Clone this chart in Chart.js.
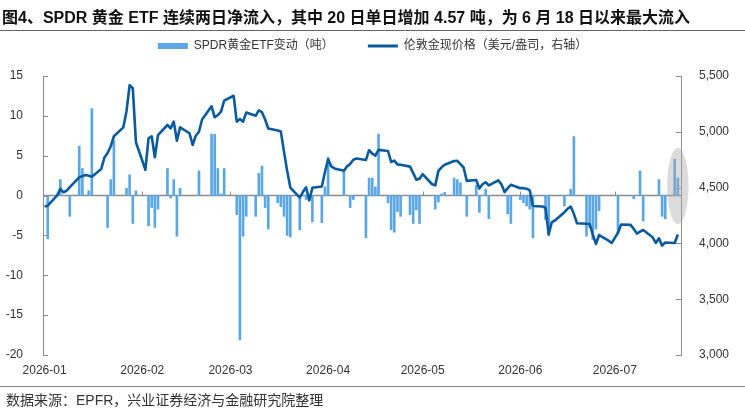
<!DOCTYPE html>
<html lang="zh">
<head>
<meta charset="utf-8">
<title>SPDR 黄金 ETF</title>
<script src="https://cdn.jsdelivr.net/npm/chart.js@4.4.1/dist/chart.umd.min.js"></script>
<style>
  html, body { margin: 0; padding: 0; background: #fff; }
  #wrap { position: relative; width: 745px; height: 410px; overflow: hidden; font-family: "Liberation Sans", "Noto Sans CJK SC", sans-serif; }
  #titulo { position: absolute; left: 2px; top: 4px; font-size: 16px; font-weight: bold; color: #111; white-space: nowrap; }
  .regla { position: absolute; left: 0; width: 745px; height: 0; border-top: 1px solid #666; }
  #fuente { position: absolute; left: 6px; top: 389px; font-size: 14px; color: #333; white-space: nowrap; }
  canvas { position: absolute; left: 0; top: 0; }
</style>
</head>
<body>
<div id="wrap">
  <canvas id="grafico" width="745" height="410"></canvas>
  <div id="titulo">图4、SPDR 黄金 ETF 连续两日净流入，其中 20 日单日增加 4.57 吨，为 6 月 18 日以来最大流入</div>
  <div class="regla" style="top:30px"></div>
  <div class="regla" style="top:386px; border-top-color:#888"></div>
  <div id="fuente">数据来源：EPFR，兴业证券经济与金融研究院整理</div>
</div>
<script>
// eje x: etiquetas de mes y su primer dia
const months = ['2026-01', '2026-02', '2026-03', '2026-04', '2026-05', '2026-06', '2026-07'];
const monthStarts = ['01-01', '02-01', '03-01', '04-01', '05-01', '06-01', '07-01'];

// SPDR黄金ETF变动（吨）
const flowDates = [
  '01-02','01-06','01-09','01-12','01-13','01-15','01-16','01-21','01-22','01-23','01-27','01-28','01-29','01-30',
  '02-03','02-04','02-05','02-06','02-09','02-10','02-11','02-12','02-13','02-19','02-23','02-24','02-25','02-26','02-27',
  '03-03','03-04','03-05','03-06','03-09','03-10','03-11','03-12','03-13','03-16','03-17','03-18','03-19','03-20','03-23','03-25','03-26','03-27','03-30','03-31',
  '04-01','04-06','04-08','04-09','04-13','04-14','04-15','04-16','04-17','04-20','04-21','04-22','04-23','04-24','04-27','04-28','04-29','04-30',
  '05-05','05-06','05-07','05-08','05-11','05-12','05-13','05-15','05-18','05-19','05-21','05-22','05-28','05-29',
  '06-01','06-02','06-03','06-04','06-05','06-09','06-10','06-15','06-17','06-18','06-22','06-23','06-24','06-25','06-26',
  '07-02','07-07','07-09','07-10','07-15','07-16','07-17','07-20','07-21'
];
const flowValues = [
  -5.4, 2.0, -2.6, 6.2, 3.4, 0.6, 10.9, -4.0, 2.0, 6.9, 0.9, 2.6, -3.5, 0.6,
  -3.8, -1.5, -4.0, -1.7, 3.4, -0.3, 2.0, -5.1, 0.9, 3.1, 7.7, 7.7, 3.4, 0.2, 3.4,
  -2.4, -18.1, -5.1, -2.6, -2.6, 2.8, 3.7, -1.5, -4.2, -0.9, -1.4, -2.6, -5.0, -5.2, -4.3, -0.5, -0.6, -3.3, -3.4, 1.1,
  4.8, 3.1, -1.5, -0.5, -5.3, 2.2, 2.2, 1.1, 7.7, -0.9, -4.3, -4.6, -2.0, -2.6, -2.4, -3.5, -1.8, -3.5,
  -1.7, -0.8, 0.2, 0.4, 2.2, 2.0, 1.6, -2.6, 1.3, -2.1, 0.8, -2.9, -2.3, -3.5,
  -0.5, -0.9, -1.3, -1.7, -5.3, -3.0, -5.0, -1.3, 0.8, 7.4, -5.1, -4.0, -5.5, -4.2, -1.9,
  -4.7, -0.4, 3.1, -3.2, 2.0, -2.6, -2.9, 4.57, 2.2
];

// 伦敦金现价格（美元/盎司）
const priceDates = [
  '01-01','01-02','01-05','01-06','01-07','01-08','01-09','01-12','01-13','01-14','01-15','01-16','01-19','01-20','01-21','01-22','01-23','01-26','01-27','01-28','01-29','01-30',
  '02-02','02-03','02-04','02-05','02-06','02-09','02-10','02-11','02-12','02-13','02-16','02-17','02-18','02-19','02-20','02-23','02-24','02-25','02-26','02-27',
  '03-02','03-03','03-04','03-05','03-06','03-09','03-10','03-11','03-12','03-13','03-16','03-17','03-18','03-19','03-20','03-23','03-24','03-25','03-26','03-27','03-30','03-31',
  '04-01','04-02','04-03','04-06','04-07','04-08','04-09','04-10','04-13','04-14','04-15','04-16','04-17','04-20','04-21','04-22','04-23','04-24','04-27','04-28','04-29','04-30',
  '05-01','05-04','05-05','05-06','05-07','05-08','05-11','05-12','05-13','05-14','05-15','05-18','05-19','05-20','05-21','05-22','05-25','05-26','05-27','05-28','05-29',
  '06-01','06-02','06-03','06-04','06-05','06-08','06-09','06-10','06-11','06-12','06-15','06-16','06-17','06-18','06-19','06-22','06-23','06-24','06-25','06-26','06-29','06-30',
  '07-01','07-02','07-03','07-06','07-07','07-08','07-09','07-10','07-13','07-14','07-15','07-16','07-17','07-20','07-21'
];
const priceValues = [
  4330, 4338, 4430, 4488, 4458, 4472, 4505, 4592, 4603, 4613, 4606, 4598, 4667, 4770, 4810, 4870, 4960, 5040, 5185, 5419, 5390, 4906,
  4660, 4942, 4960, 4772, 4970, 5061, 5031, 5091, 4920, 5040, 4987, 4882, 4965, 5000, 5110, 5228, 5130, 5150, 5180, 5279,
  5323, 5091, 5115, 5091, 5172, 5144, 5192, 5176, 5110, 5030, 5012, 5002, 4820, 4650, 4500, 4410, 4460, 4503, 4386, 4498, 4510, 4640,
  4754, 4690, 4672, 4650, 4690, 4712, 4750, 4760, 4748, 4835, 4805, 4786, 4838, 4828, 4730, 4742, 4708, 4704, 4688, 4630, 4570, 4580,
  4620, 4530, 4520, 4650, 4682, 4705, 4738, 4740, 4710, 4680, 4560, 4568, 4492, 4530, 4548, 4520, 4565, 4530, 4460, 4495, 4525,
  4495, 4495, 4490, 4475, 4335, 4330, 4320, 4080, 4190, 4205, 4280, 4310, 4330, 4265, 4180, 4176, 4174, 4080, 3995, 4075, 4025, 4004,
  4050, 4095, 4170, 4166, 4130, 4088, 4105, 4120, 4055, 4004, 4046, 3980, 4008, 4004, 4080
];

// dia del año a partir de 'MM-DD'
const dayOf = md => {
  const [m, d] = md.split('-').map(Number);
  return (Date.UTC(2026, m - 1, d) - Date.UTC(2026, 0, 1)) / 86400000;
};

const colorBarra = '#5ba7e6';
const colorLinea = '#0a5a9e';
const colorEje = '#8c8c8c';

// linea de cero, marcas hacia dentro y el ovalo gris
const marcas = {
  id: 'marcas',
  beforeInit(chart) {
    const fit = chart.legend.fit;
    chart.legend.fit = function () {
      fit.call(this);
      this.height = 70;
    };
  },
  beforeDatasetsDraw(chart) {
    const { ctx, chartArea, scales } = chart;
    const y0 = scales.y.getPixelForValue(0);
    ctx.save();
    ctx.strokeStyle = colorEje;
    ctx.lineWidth = 1.5;
    ctx.beginPath();
    ctx.moveTo(chartArea.left, y0);
    ctx.lineTo(chartArea.right, y0);
    ctx.stroke();
    ctx.lineWidth = 1;
    monthStarts.slice(1).forEach(m => {
      const x = Math.round(scales.x.getPixelForValue(dayOf(m))) + 0.5;
      ctx.beginPath();
      ctx.moveTo(x, y0);
      ctx.lineTo(x, y0 - 4);
      ctx.stroke();
    });
    scales.y.ticks.forEach(t => {
      const y = Math.round(scales.y.getPixelForValue(t.value)) + 0.5;
      ctx.beginPath();
      ctx.moveTo(chartArea.left, y);
      ctx.lineTo(chartArea.left + 5, y);
      ctx.stroke();
    });
    scales.y1.ticks.forEach(t => {
      const y = Math.round(scales.y1.getPixelForValue(t.value)) + 0.5;
      ctx.beginPath();
      ctx.moveTo(chartArea.right - 5, y);
      ctx.lineTo(chartArea.right, y);
      ctx.stroke();
    });
    ctx.restore();
  },
  afterDatasetsDraw(chart) {
    const { ctx, scales } = chart;
    const dLast = dayOf(flowDates[flowDates.length - 1]);
    const cx = scales.x.getPixelForValue(dLast);
    const rx = scales.x.getPixelForValue(dLast + 3.4) - cx;
    const cy = scales.y.getPixelForValue(1.2);
    const ry = cy - scales.y.getPixelForValue(6.0);
    ctx.save();
    ctx.fillStyle = 'rgba(170,170,170,0.42)';
    ctx.beginPath();
    ctx.ellipse(cx, cy, rx, ry, 0, 0, Math.PI * 2);
    ctx.fill();
    ctx.restore();
  }
};

Chart.defaults.font.family = '"Liberation Sans", "Noto Sans CJK SC", sans-serif';
Chart.defaults.color = '#333';

let chart;
const ctx = document.getElementById('grafico').getContext('2d');
chart = new Chart(ctx, {
  type: 'bar',
  data: {
    datasets: [{
      type: 'bar',
      label: 'SPDR黄金ETF变动（吨）',
      data: flowDates.map((d, i) => ({ x: dayOf(d), y: flowValues[i] })),
      backgroundColor: colorBarra,
      borderWidth: 0,
      barThickness: 2,
      yAxisID: 'y',
      order: 2
    }, {
      type: 'line',
      label: '伦敦金现价格（美元/盎司，右轴）',
      data: priceDates.map((d, i) => ({ x: dayOf(d), y: priceValues[i] })),
      borderColor: colorLinea,
      borderWidth: 2.6,
      pointRadius: 0,
      tension: 0,
      borderJoinStyle: 'round',
      fill: false,
      yAxisID: 'y1',
      order: 1
    }]
  },
  options: {
    responsive: false,
    animation: false,
    layout: { padding: { top: 6, left: 0, right: 0, bottom: 0 } },
    plugins: {
      tooltip: { enabled: false },
      legend: {
        position: 'top',
        labels: {
          usePointStyle: true,
          pointStyleWidth: 30,
          boxHeight: 6,
          padding: 34,
          font: { size: 12 },
          color: '#333',
          generateLabels: c => c.data.datasets.map((ds, i) => ({
            text: ds.label,
            datasetIndex: i,
            fillStyle: i === 0 ? colorBarra : colorLinea,
            strokeStyle: i === 0 ? colorBarra : colorLinea,
            lineWidth: i === 0 ? 0 : 3,
            pointStyle: i === 0 ? 'rect' : 'line',
            fontColor: '#333',
            hidden: false
          }))
        }
      }
    },
    scales: {
      x: {
        type: 'linear',
        offset: false,
        min: -0.5,
        max: 202,
        grid: { display: false },
        border: { display: false },
        afterBuildTicks: scale => {
          scale.ticks = monthStarts.map(m => ({ value: dayOf(m) }));
        },
        afterFit: scale => { scale.height = 55; },
        ticks: {
          autoSkip: false,
          maxRotation: 0,
          padding: 0,
          font: { size: 12 },
          color: '#333',
          callback: (v, i) => months[i]
        }
      },
      y: {
        position: 'left',
        min: -20,
        max: 15,
        afterFit: scale => { scale.width = 43; },
        grid: { display: false },
        border: { display: true, color: colorEje, width: 1 },
        ticks: { stepSize: 5, padding: 12, font: { size: 12 }, color: '#333' }
      },
      y1: {
        position: 'right',
        min: 3000,
        max: 5500,
        afterFit: scale => { scale.width = 64; },
        grid: { display: false },
        border: { display: true, color: colorEje, width: 1 },
        ticks: {
          stepSize: 500,
          padding: 10,
          font: { size: 12 },
          color: '#333',
          callback: v => v.toLocaleString('en-US')
        }
      }
    }
  },
  plugins: [marcas]
});
</script>
</body>
</html>
